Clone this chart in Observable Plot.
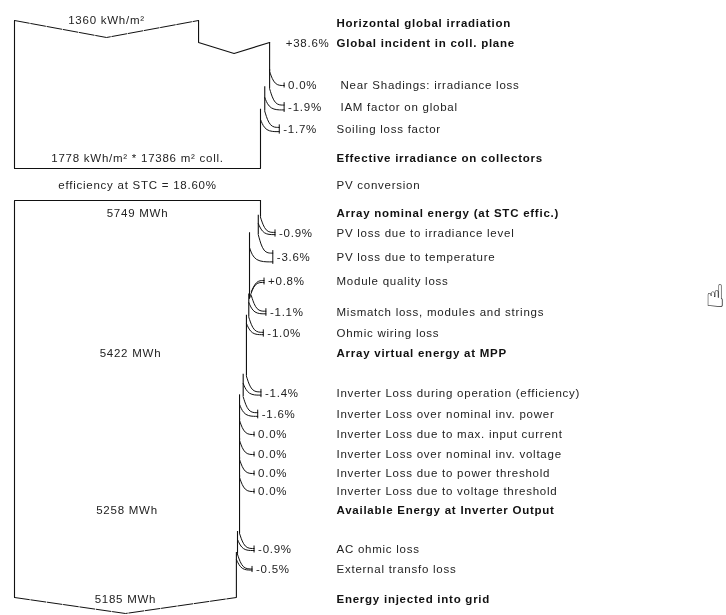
<!DOCTYPE html>
<html><head><meta charset="utf-8">
<script src="https://cdn.jsdelivr.net/npm/d3@7"></script>
<script src="https://cdn.jsdelivr.net/npm/@observablehq/plot@0.6"></script>
<style>
html,body{margin:0;padding:0;background:#fff}
svg{display:block;filter:blur(.45px)}
</style></head><body><div id="chart"></div>
<script>
// ---------- values ----------
const rowLabels = ["Horizontal global irradiation","Global incident in coll. plane","\u00a0Near Shadings: irradiance loss","\u00a0IAM factor on global","Soiling loss factor","Effective irradiance on collectors","PV conversion","Array nominal energy (at STC effic.)","PV loss due to irradiance level","PV loss due to temperature","Module quality loss","Mismatch loss, modules and strings","Ohmic wiring loss","Array virtual energy at MPP","Inverter Loss during operation (efficiency)","Inverter Loss over nominal inv. power","Inverter Loss due to max. input current","Inverter Loss over nominal inv. voltage","Inverter Loss due to power threshold","Inverter Loss due to voltage threshold","Available Energy at Inverter Output","AC ohmic loss","External transfo loss","Energy injected into grid"];
const boldRows = [0,1,5,7,13,20,23];
const gainPct = 38.6;
const irrRows = [2,3,4];
const irrPct = [0.0,-1.9,-1.7];
const arrayRows = [8,9,10,11,12,14,15,16,17,18,19,21,22];
const arrayPct = [-0.9,-3.6,0.8,-1.1,-1.0,-1.4,-1.6,0.0,0.0,0.0,0.0,-0.9,-0.5];
const flowRows = [0,5,6,7,13,20,23];
const flowTexts = ["1360 kWh/m\u00b2","1778 kWh/m\u00b2 * 17386 m\u00b2 coll.","efficiency at STC = 18.60%","5749 MWh","5422 MWh","5258 MWh","5185 MWh"];

// ---------- layout ----------
const rowDepth = [23,43,85,107,129,158,185,213,233,257,281,312,333,353,393,414,434,454,473,491,510,549,569,599];
const block1 = {top:20, step:42, bottom:168, dip:17, dip2:11};
const block2 = {top:200, bottom:597, dip:16};
const tail = 0.059, labelX = 1.309;
const px = 1/246;

// ---------- flow widths, as running product of the percentages ----------
const product = a => a.reduce((p,v)=>p*(1+v/100),1);
function walk(start, rows, pct){
  let l = start;
  return rows.map((r,i)=>{const o=l; l=o*(1+pct[i]/100); return {row:r,pct:pct[i],old:o,new:l};});
}
const irrGain = 1/product(irrPct);
const irrSteps = walk(irrGain, irrRows, irrPct);
const arrSteps = walk(1, arrayRows, arrayPct);
const horizontal = irrGain/(1+gainPct/100);

// ---------- branch geometry (outer + inner curve, tick) ----------
const curves=[], ticks=[], pctLabels=[], edges=[];
function branches(steps, startY, startX, endY){
  let topY=startY, cur=startX;
  steps.forEach((s,k)=>{
    const r=rowDepth[s.row], h=Math.abs(s.old-s.new)/px*0.5, g=s.pct>0;
    const tip=Math.max(s.old,s.new)+tail-(g?(s.new-s.old):0);
    const hiY=g? r+17 : r-14-2*h, loY=g? r+10 : r-10;
    const hiX=s.old, loX=s.new;
    curves.push({id:k+"a"+s.row,x:hiX,y:hiY},{id:k+"a"+s.row,x:hiX+5*px,y:g?r+h:r-h},{id:k+"a"+s.row,x:tip,y:g?r+h:r-h});
    if(s.pct!==0) curves.push({id:k+"b"+s.row,x:loX,y:loY},{id:k+"b"+s.row,x:loX+5*px,y:g?r-h:r+h},{id:k+"b"+s.row,x:tip,y:g?r-h:r+h});
    ticks.push({x:tip,y1:r-h-2.5,y2:r+h+2.5});
    pctLabels.push({x:tip,y:r,t:(s.pct>0?"+":"")+s.pct.toFixed(1)+"%"});
    edges.push({x:s.old,y1:topY,y2:hiY});
    topY=hiY-2; cur=s.new;
  });
  edges.push({x:cur,y1:topY,y2:endY});
  return cur;
}
const x1End = branches(irrSteps, block1.step, irrGain, block1.bottom);
const x2End = branches(arrSteps, block2.top, 1, block2.bottom);

const solid = [
  {id:"gain",x:horizontal,y:block1.top},{id:"gain",x:horizontal,y:block1.step},
  {id:"gain",x:(horizontal+irrGain)/2,y:block1.step+block1.dip2},{id:"gain",x:irrGain,y:block1.step},
  {id:"b1",x:0,y:block1.top},{id:"b1",x:0,y:block1.bottom},{id:"b1",x:x1End,y:block1.bottom},
  {id:"b2",x:1,y:block2.top},{id:"b2",x:0,y:block2.top},{id:"b2",x:0,y:block2.bottom}
];
const dashed = [
  {id:"t",x:0,y:block1.top},{id:"t",x:horizontal/2,y:block1.top+block1.dip},{id:"t",x:horizontal,y:block1.top},
  {id:"u",x:0,y:block2.bottom},{id:"u",x:x2End/2,y:block2.bottom+block2.dip},{id:"u",x:x2End,y:block2.bottom}
];
const flowX = flowRows.map(r=> r===0? horizontal/2 : r<=7? 0.5 : r===13? product(arrayPct.slice(0,5))/2 : r===20? product(arrayPct.slice(0,11))/2 : x2End/2);

const font = "Liberation Sans, Arial, sans-serif";
const plot = Plot.plot({
  width:726, height:615, margin:0,
  x:{domain:[0,1],range:[14,260],axis:null},
  y:{domain:[0,615],range:[0,615],axis:null},
  style:{background:"#fff",letterSpacing:"0.75px"},
  marks:[
    Plot.line(solid,{x:"x",y:"y",z:"id",stroke:"#111",strokeWidth:1.1}),
    Plot.line(dashed,{x:"x",y:"y",z:"id",stroke:"#111",strokeWidth:1,strokeDasharray:"15 1.5"}),
    Plot.ruleX(edges,{x:"x",y1:"y1",y2:"y2",stroke:"#111",strokeWidth:1.1}),
    Plot.line(curves,{x:"x",y:"y",z:"id",curve:"basis",stroke:"#111",strokeWidth:1}),
    Plot.ruleX(ticks,{x:"x",y1:"y1",y2:"y2",stroke:"#111",strokeWidth:1}),
    Plot.text(rowLabels.map((t,i)=>({t,i})).filter(d=>!boldRows.includes(d.i)),{x:()=>labelX,y:d=>rowDepth[d.i],text:"t",textAnchor:"start",fontFamily:font,fontSize:11.5,fill:"#222"}),
    Plot.text(rowLabels.map((t,i)=>({t,i})).filter(d=>boldRows.includes(d.i)),{x:()=>labelX,y:d=>rowDepth[d.i],text:"t",textAnchor:"start",fontFamily:font,fontSize:11.5,fontWeight:"bold",fill:"#111"}),
    Plot.text(flowTexts.map((t,i)=>({t,x:flowX[i],y:rowDepth[flowRows[i]]-(flowRows[i]===0?3:0)})),{x:"x",y:"y",text:"t",fontFamily:font,fontSize:11.5,fill:"#222"}),
    Plot.text(pctLabels,{x:"x",y:"y",text:"t",dx:4,textAnchor:"start",fontFamily:font,fontSize:11.5,fill:"#222"}),
    Plot.text(["+"+gainPct.toFixed(1)+"%"],{x:()=>1.309,y:()=>rowDepth[1],dx:-7,textAnchor:"end",fontFamily:font,fontSize:11.5,fill:"#222"}),
    Plot.text(["\u261D"],{x:()=>2.85,y:()=>296,fontFamily:"DejaVu Sans",fontSize:32,fill:"#111"})
  ]
});
document.getElementById("chart").append(plot);
</script></body></html>
